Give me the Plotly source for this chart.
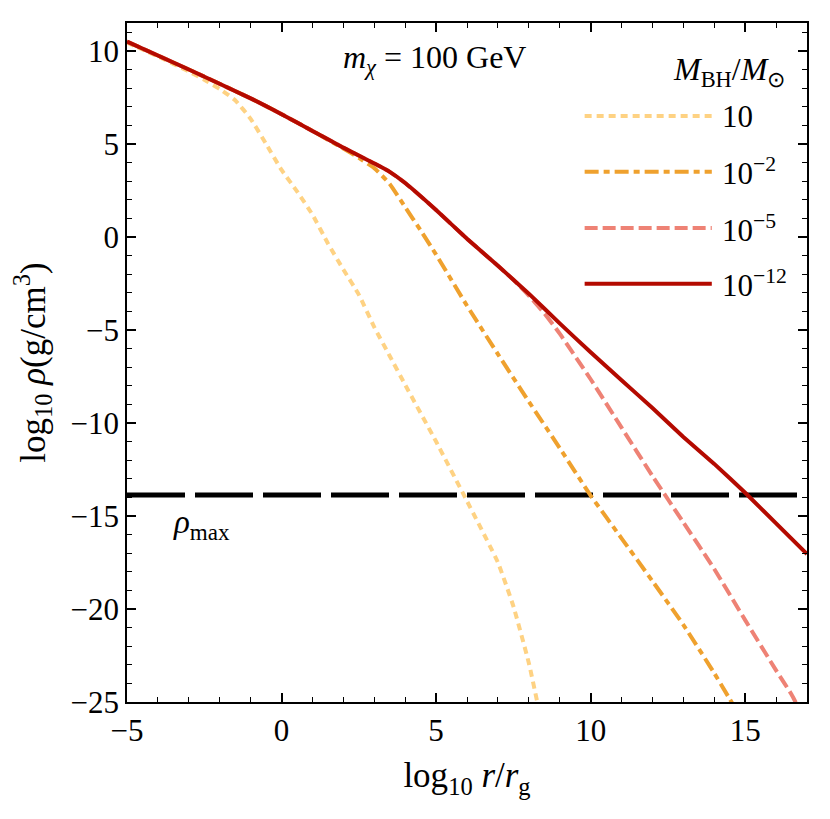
import plotly.graph_objects as go

# x = log10 r/r_g, y = log10 rho (g/cm^3)
x_m1 = [-5, -4, -3, -2.5, -2, -1.5, -1, -0.5, 0, 0.5, 1, 1.5, 2, 2.5, 3, 3.5, 4, 5, 6, 7, 7.5, 8, 8.4]
y_m1 = [10.45, 9.7, 8.9, 8.45, 7.95, 7.35, 6.35, 5.0, 3.6, 2.45, 1.2, -0.35, -1.75, -3.1, -4.85, -6.4,
        -7.95, -11.0, -14.2, -17.5, -19.85, -22.9, -26.0]

x_m2 = [-5, -3, -1, 0, 1, 2, 2.5, 3, 3.5, 4, 4.5, 5, 6, 7, 8, 9, 10, 11, 12, 13, 14, 14.7]
y_m2 = [10.5, 9.0, 7.45, 6.6, 5.7, 4.75, 4.25, 3.7, 2.85, 1.6, 0.35, -0.95, -3.7, -6.3, -8.85, -11.35,
        -13.9, -16.2, -18.5, -20.85, -23.45, -25.4]

x_m3 = [-5, -3, -1, 0, 1, 2, 3, 3.5, 4, 5, 6, 7, 7.5, 8, 8.5, 9, 10, 11, 12, 13, 14, 15, 16, 16.5, 17]
y_m3 = [10.5, 9.0, 7.45, 6.6, 5.7, 4.8, 3.95, 3.5, 2.9, 1.45, -0.1, -1.55, -2.3, -3.15, -4.1, -5.2,
        -7.65, -10.25, -12.85, -15.35, -17.85, -20.6, -23.3, -24.6, -26.2]

x_m4 = [-5, -3, -1, 0, 1, 2, 3, 3.5, 4, 5, 6, 7, 8, 9, 10, 11, 12, 13, 14, 15, 16, 17]
y_m4 = [10.5, 9.0, 7.45, 6.6, 5.7, 4.8, 3.95, 3.5, 2.9, 1.45, -0.1, -1.55, -3.05, -4.65, -6.2, -7.7,
        -9.2, -10.75, -12.2, -13.75, -15.4, -17.05]

rho_max = -13.87
x_span = [-5, 17]

labels = ["10", "10<sup>\u22122</sup>", "10<sup>\u22125</sup>", "10<sup>\u221212</sup>"]
colors = ["#FED283", "#EFA12E", "#EE8275", "#B40A00"]
dashes = ["7px,5px", "14px,5px,6px,5px", "13px,5px", "solid"]

FONT = "Liberation Serif"

fig = go.Figure()

# linea rho_max
fig.add_trace(go.Scatter(
    x=x_span, y=[rho_max, rho_max], mode="lines",
    line=dict(color="black", width=5, dash="58px,10px"),
    showlegend=False, hoverinfo="skip"))

curves = [(x_m1, y_m1), (x_m2, y_m2), (x_m3, y_m3), (x_m4, y_m4)]
for (xs, ys), c, d in zip(curves, colors, dashes):
    fig.add_trace(go.Scatter(
        x=xs, y=ys, mode="lines",
        line=dict(color=c, width=4, dash=d, shape="spline", smoothing=0.4),
        showlegend=False))

# legenda disegnata a mano (coordinate paper)
leg_y = [0.863, 0.781, 0.698, 0.616]
for yy, c, d, lab in zip(leg_y, colors, dashes, labels):
    fig.add_shape(type="line", xref="paper", yref="paper",
                  x0=0.673, x1=0.860, y0=yy, y1=yy,
                  line=dict(color=c, width=4, dash=d))
    fig.add_annotation(xref="paper", yref="paper", x=0.872, y=yy,
                       xanchor="left", yanchor="middle", showarrow=False,
                       text=lab, font=dict(family=FONT, size=31, color="black"))

fig.add_annotation(xref="paper", yref="paper", x=0.885, y=0.928,
                   xanchor="center", yanchor="middle", showarrow=False,
                   text="<i>M</i><sub>BH</sub>/<i>M</i><sub>\u2299</sub>",
                   font=dict(family=FONT, size=32, color="black"))

fig.add_annotation(x=4.95, y=9.55, xanchor="center", yanchor="middle", showarrow=False,
                   text="<i>m</i><sub><i>\u03c7</i></sub> = 100 GeV",
                   font=dict(family=FONT, size=32, color="black"))

fig.add_annotation(x=-2.6, y=-15.45, xanchor="center", yanchor="middle", showarrow=False,
                   text="<i>\u03c1</i><sub>max</sub>",
                   font=dict(family=FONT, size=33, color="black"))


def axis_style():
    return dict(
        showline=True, linecolor="black", linewidth=1.5, mirror="allticks",
        ticks="inside", ticklen=9, tickwidth=1.5, tickcolor="black",
        showgrid=False, zeroline=False, dtick=5,
        tickfont=dict(family=FONT, size=31, color="black"),
        minor=dict(ticks="inside", ticklen=5, tickwidth=1.2, tickcolor="black", dtick=1),
    )


fig.update_xaxes(range=[-5, 17],
                 title=dict(text="log<sub>10</sub> <i>r</i>/<i>r</i><sub>g</sub>",
                            font=dict(family=FONT, size=35, color="black"), standoff=16),
                 **axis_style())
fig.update_yaxes(range=[-25, 11.5],
                 title=dict(text="log<sub>10</sub> <i>\u03c1</i>(g/cm<sup>3</sup>)",
                            font=dict(family=FONT, size=35, color="black"), standoff=24),
                 **axis_style())

fig.update_layout(
    width=830, height=819,
    margin=dict(l=119, r=31, t=15, b=125),
    plot_bgcolor="white", paper_bgcolor="white",
    showlegend=False,
)

fig.write_html("out.html")
